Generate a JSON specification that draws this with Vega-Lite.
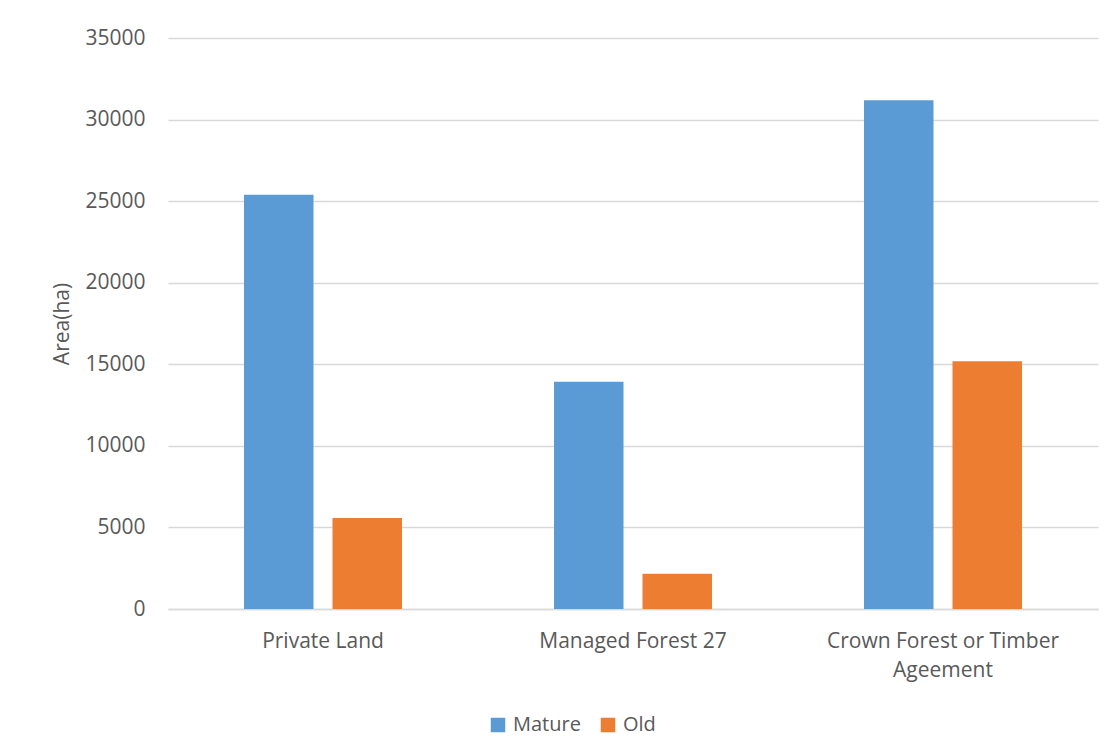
{
  "$schema": "https://vega.github.io/schema/vega-lite/v6.json",
  "autosize": "none",
  "width": 930,
  "height": 571,
  "padding": {"left": 168, "top": 38, "right": 17, "bottom": 146},
  "background": "#ffffff",
  "data": {
    "values": [
      {"region": "Private Land", "age": "Mature", "area": 25390},
      {"region": "Private Land", "age": "Old", "area": 5580},
      {"region": "Managed Forest 27", "age": "Mature", "area": 13930},
      {"region": "Managed Forest 27", "age": "Old", "area": 2160},
      {"region": "Crown Forest or Timber Ageement", "age": "Mature", "area": 31180},
      {"region": "Crown Forest or Timber Ageement", "age": "Old", "area": 15180}
    ]
  },
  "mark": {"type": "bar"},
  "encoding": {
    "x": {
      "field": "region",
      "type": "nominal",
      "sort": ["Private Land", "Managed Forest 27", "Crown Forest or Timber Ageement"],
      "scale": {"paddingInner": 0, "paddingOuter": 0},
      "axis": {
        "title": null,
        "labelAngle": 0,
        "labelPadding": 21,
        "labelLineHeight": 29,
        "labelLimit": 0,
        "labelExpr": "datum.label == 'Crown Forest or Timber Ageement' ? ['Crown Forest or Timber', 'Ageement'] : datum.label",
        "ticks": false,
        "domainColor": "#d9d9d9",
        "domainWidth": 1.5
      }
    },
    "xOffset": {
      "field": "age",
      "type": "nominal",
      "scale": {"paddingInner": 0.2147, "paddingOuter": 0.859}
    },
    "y": {
      "field": "area",
      "type": "quantitative",
      "scale": {"domain": [0, 35000], "nice": false},
      "axis": {
        "title": "Area(ha)",
        "values": [0, 5000, 10000, 15000, 20000, 25000, 30000, 35000],
        "format": "d",
        "ticks": false,
        "domain": false,
        "labelPadding": 23,
        "titlePadding": 12,
        "gridColor": "#d9d9d9",
        "gridWidth": 1.5
      }
    },
    "color": {
      "field": "age",
      "type": "nominal",
      "scale": {"domain": ["Mature", "Old"], "range": ["#5b9bd5", "#ed7d31"]},
      "legend": {
        "title": null,
        "orient": "none",
        "direction": "horizontal",
        "legendX": 320,
        "legendY": 677,
        "symbolType": "square",
        "symbolSize": 210,
        "symbolStrokeWidth": 0,
        "labelOffset": 5,
        "columnPadding": 17
      }
    }
  },
  "config": {
    "font": "Open Sans",
    "view": {"stroke": null},
    "axis": {
      "labelFont": "Open Sans",
      "labelFontSize": 21,
      "labelColor": "#595959",
      "titleFont": "Open Sans",
      "titleFontSize": 21,
      "titleFontWeight": "normal",
      "titleColor": "#595959"
    },
    "legend": {
      "labelFont": "Open Sans",
      "labelFontSize": 20,
      "labelColor": "#595959"
    }
  }
}
